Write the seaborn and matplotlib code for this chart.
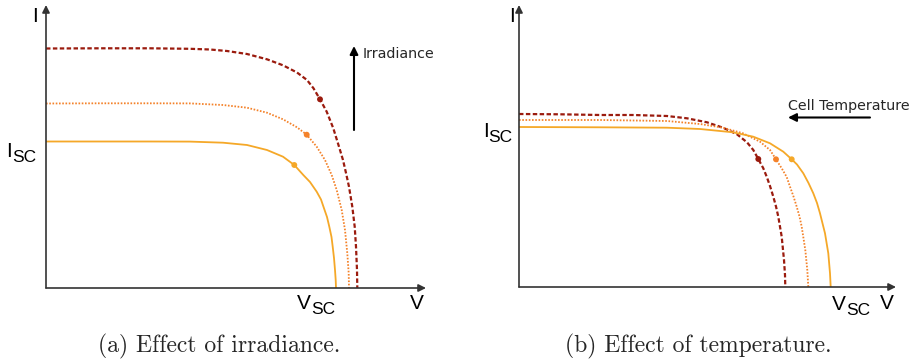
import matplotlib
matplotlib.use("Agg")
import matplotlib.pyplot as plt
import seaborn as sns
import pandas as pd

sns.set_theme(style="white")
plt.rcParams['font.family'] = ['DejaVu Sans']

# ---------------- data (arbitrary units) ----------------
# (a) Effect of irradiance
irr_high_V = [0, 54, 104, 144, 164, 181, 201, 221, 237, 251, 261, 267.5, 274, 280.7, 287.3, 293, 297, 300, 303,
              306.3, 308.7, 310, 311, 311.3]
irr_high_I = [239.5, 239.7, 239.7, 239.2, 238.5, 237, 234, 228.7, 222.7, 215.5, 208, 199.7, 188.7, 176.3, 159.7,
              141.3, 128, 115, 101.3, 81.3, 61.3, 41.3, 18, 0]
irr_mid_V = [0, 54, 104, 144, 177, 201, 221, 237, 251, 260.7, 270.7, 279, 285.7, 290.7, 295.7, 299, 301.3, 302.7, 303]
irr_mid_I = [184.5, 184.7, 184.7, 184.6, 183, 180.3, 175.3, 168.7, 160.7, 153.3, 141.3, 128, 113, 98, 78, 58, 34.7,
             14.7, 0]
irr_low_V = [0, 54, 104, 144, 177, 201, 221, 237, 248.3, 257.3, 264, 270.7, 275, 278, 281, 283.3, 285.5, 286.7, 288,
             289, 289.7, 290]
irr_low_I = [146.5, 146.5, 146.5, 146.4, 145.3, 143, 138, 131.3, 123, 113, 106, 96.3, 88.5, 79.7, 71, 61.3, 51, 41.3,
             30, 18, 8, 0]
irr_mpp_V = [274, 260.7, 248.3]
irr_mpp_I = [188.7, 153.3, 123]

# (b) Effect of temperature
tmp_high_V = [0, 41, 81, 114, 148, 168, 188, 204, 218, 228, 234.3, 239.3, 244.3, 247.7, 251, 254.3, 257, 259.3, 262.7,
              265, 266, 266.3]
tmp_high_I = [173, 172.7, 172, 172, 171, 168.7, 164.7, 159.3, 152.7, 144.7, 137, 128, 118.7, 110.3, 101, 90.3, 80.5,
              70.3, 50.3, 27, 12, 0]
tmp_mid_V = [0, 81, 148, 181, 204, 224, 241, 251, 257, 262.7, 267.7, 271, 274.5, 277.7, 280.5, 282.7, 286.3, 288.3,
             289.3]
tmp_mid_I = [167, 167, 166, 163, 159.3, 153.7, 145.3, 137, 127.7, 118.7, 110, 100.3, 90.5, 80.3, 70.5, 60.3, 37, 17, 0]
tmp_low_V = [0, 81, 148, 181, 214, 234.3, 251, 264.3, 272.7, 278, 284.3, 289.5, 294.3, 298, 301, 306, 309.3, 311,
             311.7]
tmp_low_I = [160, 159.7, 159.3, 158, 154.7, 150.3, 143.7, 135.3, 127.7, 122.5, 113.7, 104, 93.7, 84, 73.7, 53.7, 33.7,
             13.7, 0]
tmp_mpp_V = [239.3, 257, 272.7]
tmp_mpp_I = [128, 127.7, 127.7]

captions = ["(a) Effect of irradiance.", "(b) Effect of temperature."]

DARK = "#9b1b0e"
ORANGE = "#f4822a"
YELLOW = "#f5a828"
AX = "#333333"

W, H = 917, 362
fig = plt.figure(figsize=(W / 100, H / 100), dpi=100)


def fx(x):
    return x / W


def fy(y):
    return 1 - y / H


def make_ax(x0, y0, x1, y1):
    return fig.add_axes([fx(x0), fy(y0), fx(x1) - fx(x0), fy(y1) - fy(y0)])


ax1 = make_ax(46, 288, 426, 5)
ax2 = make_ax(519, 287, 896, 5)
ax1.set_xlim(0, 380); ax1.set_ylim(0, 283)
ax2.set_xlim(0, 377); ax2.set_ylim(0, 282)

styles = [
    dict(color=DARK, lw=1.6, linestyle=(0, (2.0, 1.1))),
    dict(color=ORANGE, lw=1.3, linestyle=(0, (0.9, 0.9))),
    dict(color=YELLOW, lw=1.3, linestyle="-"),
]


def draw(ax, curves, mppV, mppI):
    for (V, I), st in zip(curves, styles):
        df = pd.DataFrame({"V": V, "I": I})
        sns.lineplot(data=df, x="V", y="I", ax=ax, sort=False, estimator=None, **st)
    dm = pd.DataFrame({"V": mppV, "I": mppI, "k": [0, 1, 2]})
    sns.scatterplot(data=dm, x="V", y="I", ax=ax, hue="k",
                    palette=[s["color"] for s in styles], s=18,
                    edgecolor="none", legend=False, zorder=5)
    for sp in ax.spines.values():
        sp.set_visible(False)
    ax.set_xticks([]); ax.set_yticks([])
    ax.set_xlabel(""); ax.set_ylabel("")
    ax.patch.set_alpha(0)
    xm, ym = ax.get_xlim()[1], ax.get_ylim()[1]
    ap = dict(arrowstyle="-|>", color=AX, lw=1.2, shrinkA=0, shrinkB=0, mutation_scale=11)
    ax.annotate("", xy=(xm, 0), xytext=(0, 0), arrowprops=ap, annotation_clip=False)
    ax.annotate("", xy=(0, ym), xytext=(0, 0), arrowprops=ap, annotation_clip=False)


draw(ax1, [(irr_high_V, irr_high_I), (irr_mid_V, irr_mid_I), (irr_low_V, irr_low_I)], irr_mpp_V, irr_mpp_I)
draw(ax2, [(tmp_high_V, tmp_high_I), (tmp_mid_V, tmp_mid_I), (tmp_low_V, tmp_low_I)], tmp_mpp_V, tmp_mpp_I)

LAB = "Liberation Sans"


def sublabel(x, y, main, sub, xs, ys):
    fig.text(fx(x), fy(y), main, fontsize=15, family=LAB, ha="left", va="baseline", color="black")
    if sub:
        fig.text(fx(xs), fy(ys), sub, fontsize=12.5, family=LAB, ha="left", va="baseline", color="black")


# axis labels, panel (a)
sublabel(32, 22, "I", None, 0, 0)
sublabel(6, 157, "I", "SC", 12.5, 162)
sublabel(297, 309, "V", "SC", 311.5, 314)
sublabel(410, 309, "V", None, 0, 0)
# axis labels, panel (b)
sublabel(509, 22, "I", None, 0, 0)
sublabel(483, 137, "I", "SC", 488.5, 142)
sublabel(832, 310, "V", "SC", 846.5, 315)
sublabel(880, 309, "V", None, 0, 0)

# annotation arrows
arrow = dict(arrowstyle="-|>", color="black", lw=1.5, shrinkA=0, shrinkB=0, mutation_scale=12)
fig.add_artist(matplotlib.patches.FancyArrowPatch((fx(354), fy(130)), (fx(354), fy(46)),
                                                  transform=fig.transFigure, **arrow))
fig.text(fx(363), fy(58), "Irradiance", fontsize=10.3, family="DejaVu Sans", ha="left", va="baseline")
fig.add_artist(matplotlib.patches.FancyArrowPatch((fx(870), fy(117.5)), (fx(788), fy(117.5)),
                                                  transform=fig.transFigure, **arrow))
fig.text(fx(788), fy(110), "Cell Temperature", fontsize=10.3, family="DejaVu Sans", ha="left", va="baseline")

# captions
fig.text(fx(219), fy(352), captions[0], fontsize=17, family="cmr10", ha="center", va="baseline")
fig.text(fx(698.5), fy(352), captions[1], fontsize=17, family="cmr10", ha="center", va="baseline")

fig.savefig("out.png", dpi=100)
